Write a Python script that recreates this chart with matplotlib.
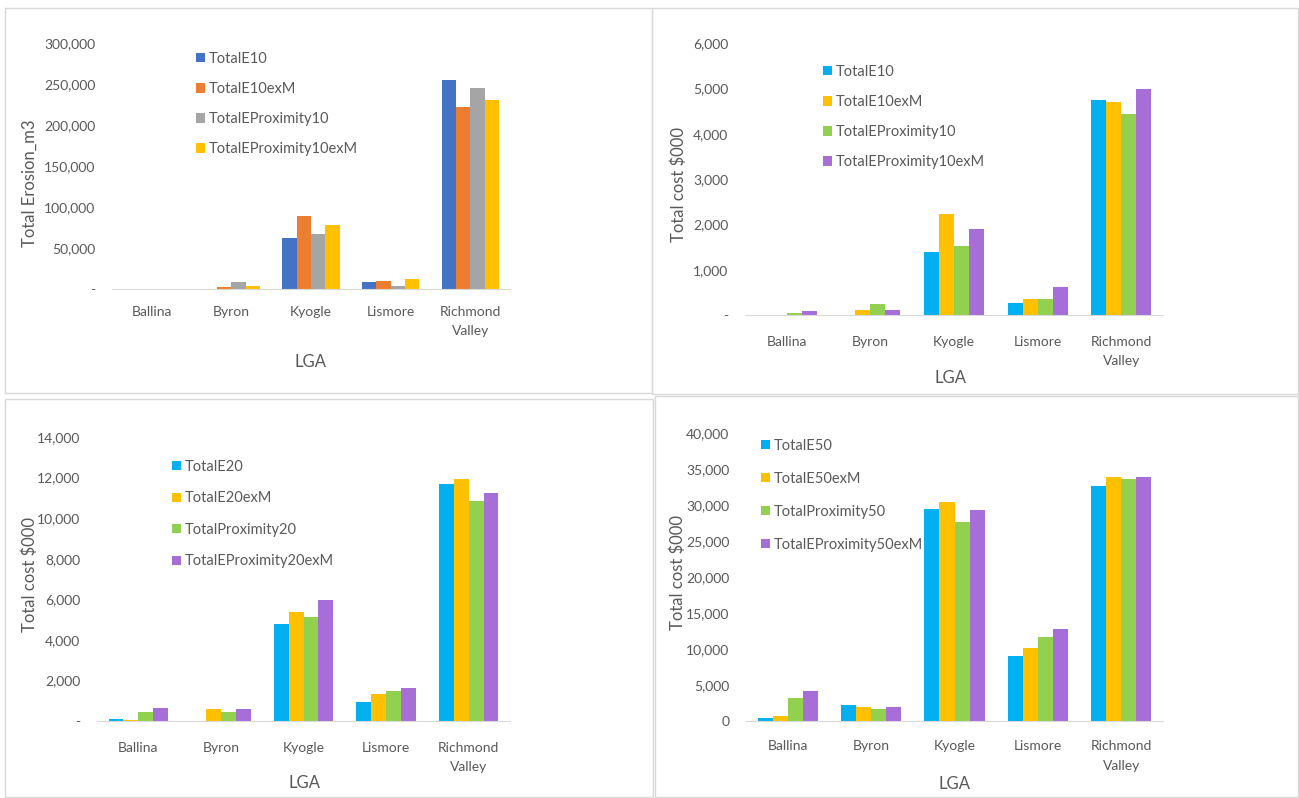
import matplotlib.pyplot as plt
import numpy as np
from matplotlib.patches import Patch, Rectangle

plt.rcParams['font.family'] = ['Lato', 'DejaVu Sans']

W, H = 1299, 798
GREY_TEXT = "#595959"
AXIS_LINE = "#D9D9D9"

lga = ["Ballina", "Byron", "Kyogle", "Lismore", "Richmond\nValley"]

# erosion volume, 10 year
series_e10 = ["TotalE10", "TotalE10exM", "TotalEProximity10", "TotalEProximity10exM"]
erosion_e10 = [200, 600, 62000, 8500, 255000]
erosion_e10exm = [150, 2000, 89000, 10000, 222000]
erosion_prox10 = [250, 8500, 67000, 4000, 245000]
erosion_prox10exm = [150, 4000, 78000, 12500, 230500]

# cost $000, 10 year
cost_e10 = [5, 10, 1390, 265, 4745]
cost_e10exm = [10, 110, 2230, 355, 4700]
cost_prox10 = [35, 245, 1520, 350, 4435]
cost_prox10exm = [90, 110, 1900, 620, 4990]

# cost $000, 20 year
series_20 = ["TotalE20", "TotalE20exM", "TotalProximity20", "TotalEProximity20exM"]
cost_e20 = [120, 0, 4770, 930, 11700]
cost_e20exm = [30, 600, 5370, 1330, 11950]
cost_prox20 = [450, 450, 5110, 1480, 10860]
cost_prox20exm = [620, 600, 5950, 1620, 11220]

# cost $000, 50 year
series_50 = ["TotalE50", "TotalE50exM", "TotalProximity50", "TotalEProximity50exM"]
cost_e50 = [450, 2200, 29400, 9000, 32600]
cost_e50exm = [650, 1900, 30400, 10100, 33900]
cost_prox50 = [3200, 1700, 27600, 11600, 33600]
cost_prox50exm = [4150, 2000, 29300, 12800, 33900]

office_colors = ["#4472C4", "#ED7D31", "#A5A5A5", "#FFC000"]
bright_colors = ["#00B0F0", "#FFC000", "#92D050", "#A66ED6"]


def px_rect(left, top, right, bottom):
    return [left / W, 1 - bottom / H, (right - left) / W, (bottom - top) / H]


def panel(fig, rect, data, names, colors, ymax, step, ylabel, zero_label,
          ylabel_xy, xlabel_xy, legend_xy, label_pad=12, legend_gap=1.1):
    ax = fig.add_axes(px_rect(*rect))
    x = np.arange(len(lga))
    w = 0.18
    for j, (vals, name, col) in enumerate(zip(data, names, colors)):
        ax.bar(x + (j - 1.5) * w, vals, w, color=col, label=name)

    ax.set_xlim(-0.5, len(lga) - 0.5)
    ax.set_ylim(0, ymax)
    ticks = np.arange(0, ymax + 1, step)
    ax.set_yticks(ticks)
    ax.set_yticklabels([zero_label if t == 0 else f"{t:,.0f}" for t in ticks])
    ax.set_xticks(x)
    ax.set_xticklabels(lga, linespacing=1.75)
    ax.tick_params(length=0, colors=GREY_TEXT, labelsize=10)
    ax.tick_params(axis="x", pad=label_pad)
    ax.tick_params(axis="y", pad=12)
    for s in ["top", "right", "left"]:
        ax.spines[s].set_visible(False)
    ax.spines["bottom"].set_color(AXIS_LINE)

    left, top, right, bottom = rect
    # label coords are given as the text centre in figure pixels
    yx, yy = ylabel_xy
    ax.set_ylabel(ylabel, fontsize=12, color=GREY_TEXT, va="center")
    ax.yaxis.set_label_coords((yx - left) / (right - left),
                              (bottom - yy) / (bottom - top))
    xx, xy = xlabel_xy
    ax.set_xlabel("LGA", fontsize=12, color=GREY_TEXT, va="center")
    ax.xaxis.set_label_coords((xx - left) / (right - left),
                              (bottom - xy) / (bottom - top))

    handles = [Patch(facecolor=c, edgecolor="none") for c in colors]
    lx, ly = legend_xy
    ax.legend(handles, names, loc="upper left", frameon=False,
              bbox_to_anchor=(lx / W, 1 - ly / H), bbox_transform=fig.transFigure,
              fontsize=10.5, labelcolor=GREY_TEXT, handlelength=0.6,
              handleheight=0.6, handletextpad=0.25, labelspacing=legend_gap,
              borderaxespad=0, borderpad=0)
    return ax


fig = plt.figure(figsize=(W / 100, H / 100), dpi=100)

# chart area frames
for (l, t, r, b) in [(5, 8, 652, 393), (652, 8, 1298, 394),
                     (5, 399, 653, 797), (655, 396, 1298, 797)]:
    fig.add_artist(Rectangle((l / W, 1 - b / H), (r - l) / W, (b - t) / H,
                             transform=fig.transFigure, fill=False,
                             edgecolor=AXIS_LINE, linewidth=1))

panel(fig, (112, 43, 510, 289),
      [erosion_e10, erosion_e10exm, erosion_prox10, erosion_prox10exm],
      series_e10, office_colors, 300000, 50000, "Total Erosion_m3", "-",
      (30, 183), (311, 362), (196, 52))

panel(fig, (745, 43, 1163, 315),
      [cost_e10, cost_e10exm, cost_prox10, cost_prox10exm],
      series_e10, bright_colors, 6000, 1000, "Total cost $000", "-",
      (679, 184), (950, 378), (823, 65), label_pad=15)

panel(fig, (97, 437, 510, 721),
      [cost_e20, cost_e20exm, cost_prox20, cost_prox20exm],
      series_20, bright_colors, 14000, 2000, "Total cost $000", "-",
      (30, 574), (304, 783), (172, 460), label_pad=15, legend_gap=1.2)

panel(fig, (746, 433, 1163, 721),
      [cost_e50, cost_e50exm, cost_prox50, cost_prox50exm],
      series_50, bright_colors, 40000, 5000, "Total cost $000", "0",
      (678, 572), (955, 784), (761, 439), label_pad=14, legend_gap=1.3)

fig.savefig("out.png", dpi=100, facecolor="white")
